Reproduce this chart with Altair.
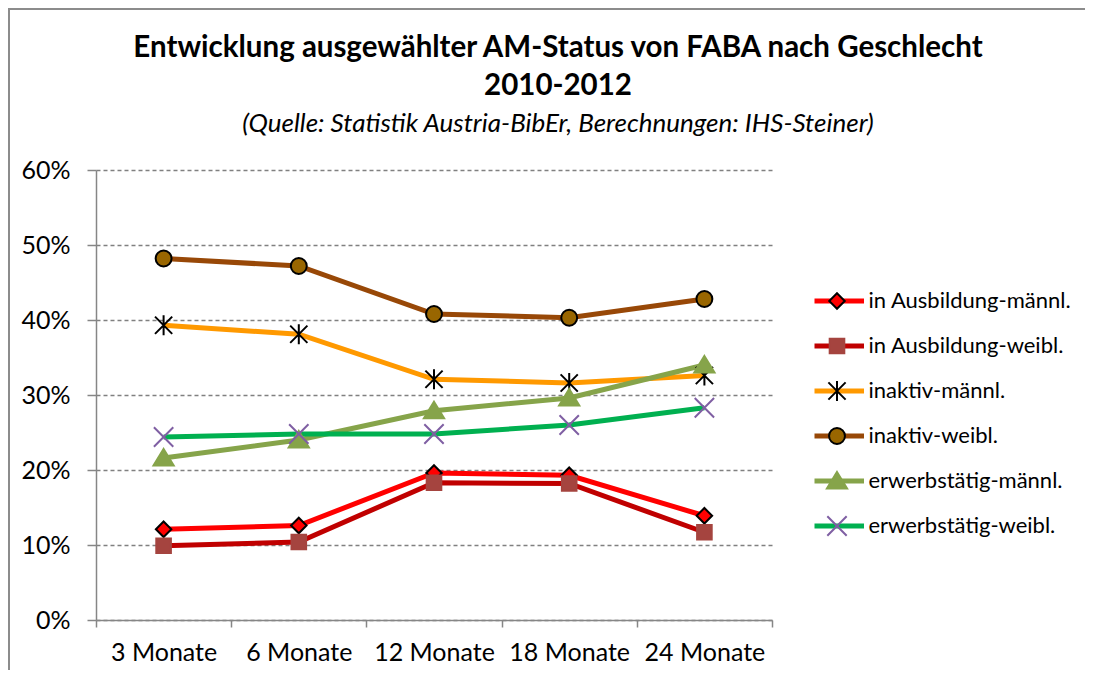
import altair as alt
import pandas as pd

categories = ["3 Monate", "6 Monate", "12 Monate", "18 Monate", "24 Monate"]
series_names = [
    "in Ausbildung-männl.",
    "in Ausbildung-weibl.",
    "inaktiv-männl.",
    "inaktiv-weibl.",
    "erwerbstätig-männl.",
    "erwerbstätig-weibl.",
]
ausb_m = [0.121, 0.126, 0.196, 0.193, 0.139]
ausb_w = [0.099, 0.104, 0.183, 0.182, 0.117]
inakt_m = [0.393, 0.381, 0.321, 0.316, 0.326]
inakt_w = [0.482, 0.472, 0.408, 0.403, 0.428]
erw_m = [0.216, 0.240, 0.279, 0.296, 0.340]
erw_w = [0.244, 0.248, 0.248, 0.260, 0.283]
y_ticks = [0, 0.1, 0.2, 0.3, 0.4, 0.5, 0.6]

line_colors = ["#FF0000", "#C00000", "#FF9900", "#984807", "#86A44A", "#00B050"]
marker_fills = ["#FF0000", "#A5443F", "#000000", "#996600", "#86A44A", "#7F5FA3"]
marker_strokes = ["#000000", "#A5443F", "#000000", "#000000", "#86A44A", "#7F5FA3"]
marker_paths = [
    "M0,-0.36 L0.36,0 L0,0.36 L-0.36,0 Z",
    "M-0.34,-0.34 L0.34,-0.34 L0.34,0.34 L-0.34,0.34 Z",
    "M-0.4,-0.4 L0.4,0.4 M-0.4,0.4 L0.4,-0.4 M0,-0.47 L0,0.47",
    "M-0.37,0 A0.37,0.37 0 1,0 0.37,0 A0.37,0.37 0 1,0 -0.37,0 Z",
    "M0,-0.42 L0.47,0.35 L-0.47,0.35 Z",
    "M-0.45,-0.45 L0.45,0.45 M-0.45,0.45 L0.45,-0.45",
]

all_values = [ausb_m, ausb_w, inakt_m, inakt_w, erw_m, erw_w]
rows = []
for s, vals in zip(series_names, all_values):
    for c, v in zip(categories, vals):
        rows.append({"series": s, "key": s + " ", "cat": c, "value": v})
df = pd.DataFrame(rows)

FONT = "Lato"
W, H = 676, 450
LX, LY = 718.5, 108.5
RIGHT = 313

x_enc = alt.X(
    "cat:N",
    sort=categories,
    bandPosition=0.5,
    scale=alt.Scale(type="band", paddingInner=0, paddingOuter=0),
    axis=alt.Axis(
        title=None, labelAngle=0, tickBand="extent", tickSize=7,
        labelFontSize=25, labelPadding=13, labelFont=FONT, labelColor="black",
        domainColor="#868686", tickColor="#868686", domainWidth=1.5, tickWidth=1.5,
        grid=False,
    ),
)
y_enc = alt.Y(
    "value:Q",
    scale=alt.Scale(domain=[0, 0.6], nice=False),
    axis=alt.Axis(
        title=None, values=y_ticks, format=".0%", tickSize=9,
        labelFontSize=25, labelPadding=17, labelFont=FONT, labelColor="black",
        domainColor="#868686", tickColor="#868686", domainWidth=1.5, tickWidth=1.5,
        grid=True, gridColor="#808080", gridDash=[4, 3], gridWidth=1.4,
    ),
)

lines = alt.Chart(df).mark_line(strokeWidth=5).encode(
    x=x_enc,
    y=y_enc,
    color=alt.Color(
        "series:N",
        scale=alt.Scale(domain=series_names, range=line_colors),
        legend=alt.Legend(
            title=None, orient="none", legendX=LX, legendY=LY, direction="vertical",
            symbolType="M-1.35,0 L1.35,0", symbolSize=1600, symbolStrokeWidth=5,
            labelFont=FONT, labelFontSize=22, labelColor="black", labelOffset=9,
            labelLimit=400, clipHeight=45, rowPadding=0, padding=0,
        ),
    ),
    detail="series:N",
)

keys = [s + " " for s in series_names]
marker_legend = alt.Legend(
    title=None, orient="none", legendX=LX, legendY=LY, direction="vertical",
    symbolSize=1849, symbolStrokeWidth=2,
    labelFont=FONT, labelFontSize=22, labelOpacity=0, labelOffset=9,
    labelLimit=400, clipHeight=45, rowPadding=0, padding=0,
)
points = alt.Chart(df).mark_point(filled=True, opacity=1, size=1849, strokeWidth=2).encode(
    x=x_enc,
    y=y_enc,
    shape=alt.Shape("key:N", scale=alt.Scale(domain=keys, range=marker_paths), legend=marker_legend),
    fill=alt.Fill("key:N", scale=alt.Scale(domain=keys, range=marker_fills), legend=marker_legend),
    stroke=alt.Stroke("key:N", scale=alt.Scale(domain=keys, range=marker_strokes), legend=marker_legend),
)

frame_df = pd.DataFrame({"f": [0]})
frame_left = alt.Chart(frame_df).mark_rect(color="#8C8C8C", strokeWidth=0).encode(
    x=alt.value(-88), x2=alt.value(-86),
    y=alt.value(-162), y2=alt.value(H + 50),
)
frame_top = alt.Chart(frame_df).mark_rect(color="#8C8C8C", strokeWidth=0).encode(
    x=alt.value(-88), x2=alt.value(W + RIGHT),
    y=alt.value(-162), y2=alt.value(-160),
)

chart = alt.layer(frame_left, frame_top, lines, points).properties(
    width=W,
    height=H,
    autosize=alt.AutoSizeParams(type="none"),
    padding={"left": 88, "top": 162, "right": RIGHT, "bottom": 50},
    title=alt.TitleParams(
        text=["Entwicklung ausgewählter AM-Status von FABA nach Geschlecht", "2010-2012"],
        subtitle="(Quelle: Statistik Austria-BibEr, Berechnungen: IHS-Steiner)",
        font=FONT, fontSize=29.5, fontWeight="bold", color="black", lineHeight=38,
        subtitleFont=FONT, subtitleFontSize=26, subtitleFontStyle="italic",
        subtitleColor="black", subtitlePadding=10,
        anchor="middle", dx=124, dy=130, offset=0,
    ),
).configure_view(stroke=None)

chart.save("out.html", embed_options={"renderer": "svg", "actions": False})
